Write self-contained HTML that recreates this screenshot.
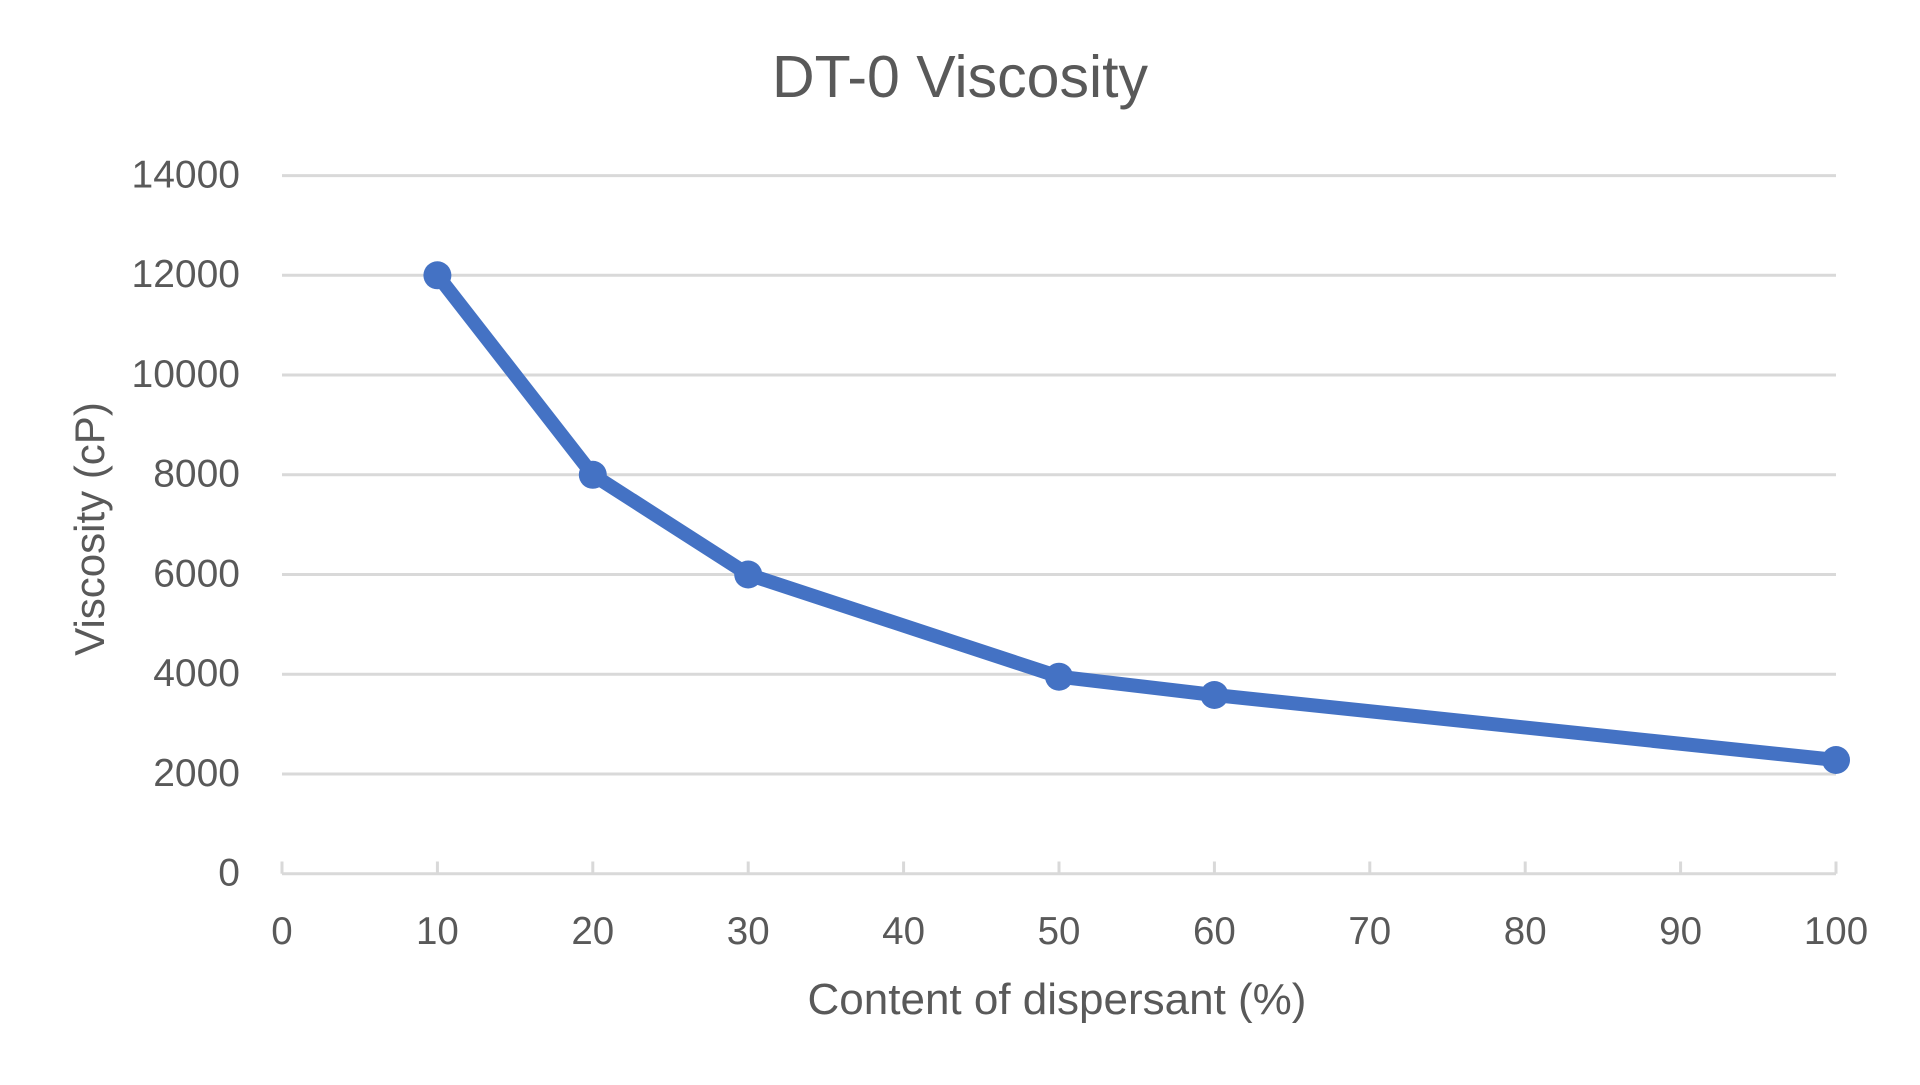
<!DOCTYPE html>
<html>
<head>
<meta charset="utf-8">
<style>
  html, body { margin: 0; padding: 0; background: #ffffff; }
  body { width: 1920px; height: 1085px; overflow: hidden; }
  svg { display: block; }
  text { font-family: "Liberation Sans", "DejaVu Sans", sans-serif; fill: #595959; }
</style>
</head>
<body>
<svg width="1920" height="1085" viewBox="0 0 1920 1085" xmlns="http://www.w3.org/2000/svg">
  <rect x="0" y="0" width="1920" height="1085" fill="#ffffff"/>

  <!-- Title -->
  <text x="960" y="97" font-size="59" text-anchor="middle">DT-0 Viscosity</text>

  <!-- Gridlines -->
  <g stroke="#d9d9d9" stroke-width="3" fill="none">
    <line x1="282" y1="175.6" x2="1836" y2="175.6"/>
    <line x1="282" y1="275.3" x2="1836" y2="275.3"/>
    <line x1="282" y1="375.0" x2="1836" y2="375.0"/>
    <line x1="282" y1="474.8" x2="1836" y2="474.8"/>
    <line x1="282" y1="574.5" x2="1836" y2="574.5"/>
    <line x1="282" y1="674.2" x2="1836" y2="674.2"/>
    <line x1="282" y1="774.0" x2="1836" y2="774.0"/>
    <!-- x axis -->
    <line x1="282" y1="873.7" x2="1836" y2="873.7"/>
    <!-- ticks -->
    <line x1="282" y1="861.5" x2="282" y2="873.7"/>
    <line x1="437.4" y1="861.5" x2="437.4" y2="873.7"/>
    <line x1="592.8" y1="861.5" x2="592.8" y2="873.7"/>
    <line x1="748.2" y1="861.5" x2="748.2" y2="873.7"/>
    <line x1="903.6" y1="861.5" x2="903.6" y2="873.7"/>
    <line x1="1059" y1="861.5" x2="1059" y2="873.7"/>
    <line x1="1214.4" y1="861.5" x2="1214.4" y2="873.7"/>
    <line x1="1369.8" y1="861.5" x2="1369.8" y2="873.7"/>
    <line x1="1525.2" y1="861.5" x2="1525.2" y2="873.7"/>
    <line x1="1680.6" y1="861.5" x2="1680.6" y2="873.7"/>
    <line x1="1836" y1="861.5" x2="1836" y2="873.7"/>
  </g>

  <!-- Y tick labels -->
  <g font-size="39" text-anchor="end">
    <text x="240" y="187.5">14000</text>
    <text x="240" y="287.2">12000</text>
    <text x="240" y="386.9">10000</text>
    <text x="240" y="486.7">8000</text>
    <text x="240" y="586.4">6000</text>
    <text x="240" y="686.1">4000</text>
    <text x="240" y="785.9">2000</text>
    <text x="240" y="885.6">0</text>
  </g>

  <!-- X tick labels -->
  <g font-size="38.5" text-anchor="middle">
    <text x="282" y="944">0</text>
    <text x="437.4" y="944">10</text>
    <text x="592.8" y="944">20</text>
    <text x="748.2" y="944">30</text>
    <text x="903.6" y="944">40</text>
    <text x="1059" y="944">50</text>
    <text x="1214.4" y="944">60</text>
    <text x="1369.8" y="944">70</text>
    <text x="1525.2" y="944">80</text>
    <text x="1680.6" y="944">90</text>
    <text x="1836" y="944">100</text>
  </g>

  <!-- Axis titles -->
  <text x="1057" y="1014" font-size="44" text-anchor="middle">Content of dispersant (%)</text>
  <text x="0" y="0" font-size="42" text-anchor="middle" transform="translate(104,529) rotate(-90)">Viscosity (cP)</text>

  <!-- Series -->
  <polyline points="437.4,275.3 592.8,474.8 748.2,574.5 1059,676.7 1214.4,695 1836,760"
            fill="none" stroke="#4472c4" stroke-width="14" stroke-linejoin="round" stroke-linecap="round"/>
  <g fill="#4472c4">
    <circle cx="437.4" cy="275.3" r="14"/>
    <circle cx="592.8" cy="474.8" r="14"/>
    <circle cx="748.2" cy="574.5" r="14"/>
    <circle cx="1059" cy="676.7" r="14"/>
    <circle cx="1214.4" cy="695" r="14"/>
    <circle cx="1836" cy="760" r="14"/>
  </g>
</svg>
</body>
</html>
